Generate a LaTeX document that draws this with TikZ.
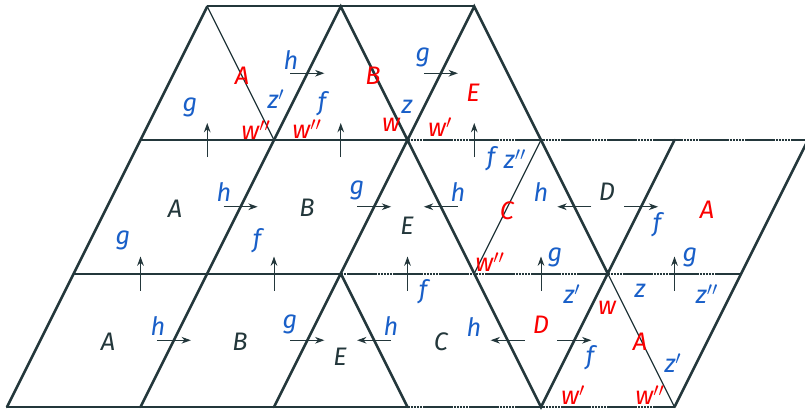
\documentclass[tikz,border=0pt]{standalone}
\usepackage{fontspec}
\setmainfont{Fira Sans}
\usepackage{xcolor}
\usetikzlibrary{arrows.meta,calc}
\definecolor{mdark}{HTML}{23373B}
\definecolor{lblue}{RGB}{25,95,200}
\definecolor{lred}{RGB}{250,0,0}
\newcommand\pr{$'$}
\newcommand\ppr{$''$}

\begin{document}
\begin{tikzpicture}[x=0.75pt,y=-0.75pt,
  edge/.style={mdark,line width=1.9pt,line cap=round},
  fold/.style={mdark,line width=0.9pt},
  rim/.style={mdark,line width=1.5pt},
  rimd/.style={rim,dash pattern=on 2pt off 0.3pt},
  arr/.style={mdark,line width=0.75pt,-{Stealth[length=7pt,width=5pt]}},
  lab/.style={inner sep=0pt,font=\fontsize{19}{20}\selectfont\itshape},
  face/.style={lab,mdark},bl/.style={lab,lblue},rd/.style={lab,lred}]
\useasboundingbox (0,0) rectangle (805,410);
\foreach \i in {0,...,5} \foreach \j in {0,...,3}
  \coordinate (v\i\j) at (7+133.5*\i+66.75*\j,407-133.5*\j);
% horizontal lines
\draw[rim](v00)--(v30) (v01)--(v21) (v02)--(v22) (v03)--(v23);
\draw[rimd](v30)--(v50) (v21)--(v51) (v22)--(v52);
% slanted edges
\draw[edge](v00)--(v01)--(v02)--(v03)
 (v10)--(v11)--(v12)--(v13)--(v22)--(v21)--(v30)
 (v20)--(v21) (v22)--(v23)--(v32)--(v41)--(v42)
 (v22)--(v31)--(v40)--(v41) (v50)--(v51)--(v52);
\draw[fold](v03)--(v12) (v13)--(v22) (v31)--(v32) (v41)--(v50);
% arrows
\foreach \a/\b in {02/12,12/22,22/32,01/11,11/21,21/31,31/41,41/51}
  \draw[arr] ($(v\a)!.5!(v\b)$) ++(0,17) -- ++(0,-34);
\foreach \a/\b in {12/13,22/23,11/12,21/22,41/42,10/11,20/21,40/41}
  \draw[arr] ($(v\a)!.5!(v\b)$) ++(-17,0) -- ++(34,0);
\foreach \a/\b in {31/22,41/32,30/21,40/31}
  \draw[arr] ($(v\a)!.5!(v\b)$) ++(17,0) -- ++(-34,0);
% top row
\node[rd] (aT) at (242,76) {A};
\node[rd] (bT) at (373,76) {B};
\node[rd] (eT) at (473,93) {E};
\node[bl] (hT) at (291,60) {h};
\node[bl] (gT2) at (423,57) {g};
\node[bl] (gT) at (190,107) {g};
\node[bl] (zpT) at (276,99) {z\pr};
\node[rd] (wppT1) at (256,130) {w\ppr};
\node[rd] (wppT2) at (307,129) {w\ppr};
\node[bl] (fT) at (322,104) {f};
\node[bl] (zT) at (407,107) {z};
\node[rd] (wT) at (391,125) {w};
\node[rd] (wpT) at (440,127) {w\pr};
% middle row
\node[face] (aM) at (175,209) {A};
\node[face] (bM) at (307,208) {B};
\node[face] (eM) at (407,226) {E};
\node[face] (dM) at (607,192) {D};
\node[rd] (cM) at (507,211) {C};
\node[rd] (aM2) at (707,210) {A};
\node[rd] (wppM) at (490,262) {w\ppr};
\node[bl] (hM1) at (224,192) {h};
\node[bl] (gM1) at (357,190) {g};
\node[bl] (gM2) at (123,240) {g};
\node[bl] (fM1) at (257,241) {f};
\node[bl] (fM2) at (491,159) {f};
\node[bl] (zppM) at (515,159) {z\ppr};
\node[bl] (hM2) at (458,192) {h};
\node[bl] (hM3) at (541,192) {h};
\node[bl] (fM3) at (657,225) {f};
\node[bl] (gM3) at (555,257) {g};
\node[bl] (gM4) at (690,257) {g};
% bottom row
\node[face] (aB) at (108,342) {A};
\node[face] (bB) at (240,342) {B};
\node[face] (eB) at (340,357) {E};
\node[face] (cB) at (441,342) {C};
\node[rd] (dB) at (541,325) {D};
\node[rd] (aB2) at (640,342) {A};
\node[rd] (wB) at (607,308) {w};
\node[rd] (wpB) at (573,395) {w\pr};
\node[rd] (wppB) at (650,395) {w\ppr};
\node[bl] (hB1) at (158,326) {h};
\node[bl] (gB1) at (290,324) {g};
\node[bl] (hB2) at (391,326) {h};
\node[bl] (hB3) at (474,327) {h};
\node[bl] (fB1) at (423,292) {f};
\node[bl] (fB2) at (590,358) {f};
\node[bl] (zpB1) at (572,294) {z\pr};
\node[bl] (zB) at (640,291) {z};
\node[bl] (zppB) at (707,294) {z\ppr};
\node[bl] (zpB2) at (673,363) {z\pr};
\end{tikzpicture}
\end{document}
